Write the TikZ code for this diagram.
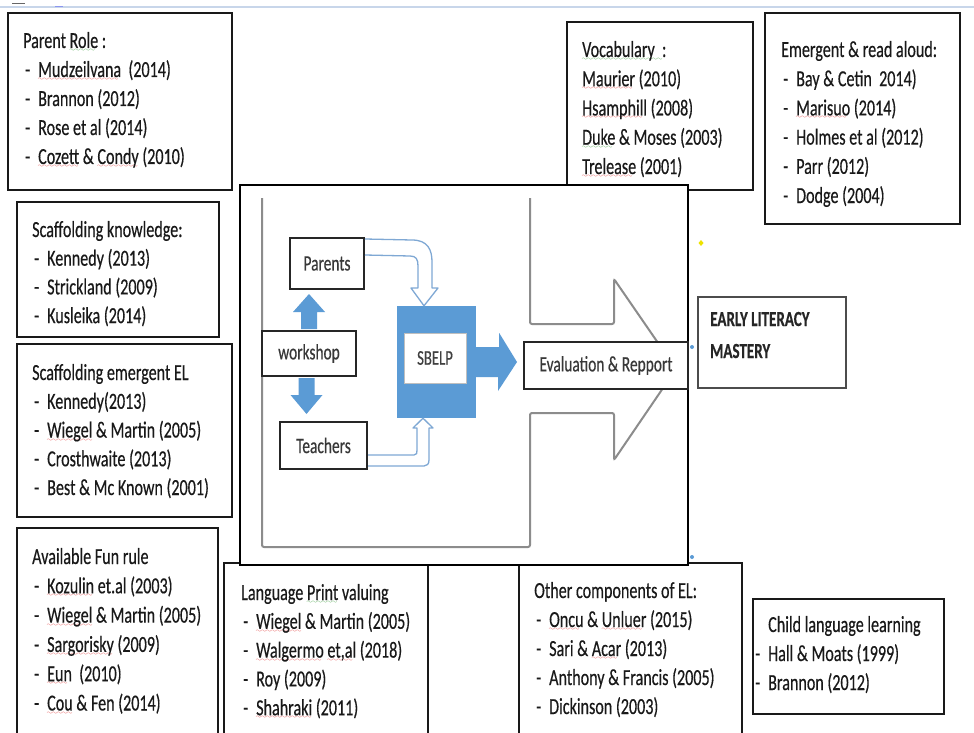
\documentclass[tikz,border=0pt]{standalone}
\usepackage{fontspec}
\setmainfont{Carlito}[FakeStretch=0.7,FakeBold=0.4]
\usetikzlibrary{calc}

\definecolor{officeBlue}{HTML}{5B9BD5}
\definecolor{hollowBlue}{HTML}{7FA8D4}
\definecolor{outlineGray}{HTML}{8C8C8C}
\definecolor{pageRule}{HTML}{C8D6EA}
\definecolor{spellRed}{HTML}{E23B3B}
\definecolor{spellGreen}{HTML}{3F9F3F}

\font\waveFont=lasy6
\newcommand\waveLine[2]{\setbox0\hbox{#2}\rlap{\textcolor{#1}{\raisebox{-3.5pt}{\hbox to \wd0{\leaders\hbox{\waveFont\char58}\hfill}}}}\box0\relax}
\newcommand\redWave[1]{\waveLine{spellRed}{#1}}
\newcommand\greenWave[1]{\waveLine{spellGreen}{#1}}
\newcommand\dashItem[1]{\makebox[15pt][l]{\hspace{2pt}-}#1}
\newcommand\edgeItem[1]{\llap{-\hspace{8pt}}#1}

\begin{document}
\begin{tikzpicture}
[x=1pt,y=-1pt,
  refBox/.style={draw=black!90,line width=2.5pt,inner sep=0pt},
  refText/.style={anchor=base west,inner sep=0pt,text=black!90,font=\fontsize{23}{29}\selectfont},
  masteryText/.style={anchor=base west,inner sep=0pt,text=black!85,font=\fontsize{21.5}{29}\selectfont\bfseries},
  modelBox/.style={draw=black!85,line width=2pt,fill=white,inner sep=0pt,text=black!78,font=\fontsize{22}{26}\selectfont},
  hollowArrow/.style={draw=hollowBlue,line width=1.3pt,line join=round}]
\useasboundingbox (0,0) rectangle (974,733);
\clip (0,0) rectangle (974,733);
%% page rule at the top
\draw[pageRule,line width=1.5pt] (0,7) -- (974,7);
\draw[black!60,line width=1pt] (12,3.5) -- (25,3.5);
\draw[pageRule!70!blue,line width=1pt] (55,7) -- (63,7);
%% literature boxes
\foreach \boxname/\cx/\cy/\w/\h in {
  parentRole/120/101.5/224/177,
  scaffKnowledge/118/269.5/202/135,
  scaffEmergent/124.5/430.5/215/173,
  funRule/117.5/639/201/222,
  printValuing/326/656.5/204/187,
  otherComponents/630.5/656.5/223/187,
  childLanguage/848.5/656.5/191/115,
  vocabulary/660/106/186/168,
  readAloud/862.5/118.5/195/211}
{
  \node[refBox,minimum width=\w pt,minimum height=\h pt] (\boxname) at (\cx,\cy) {};
}
\node[draw=black!70,line width=1.5pt,minimum width=148pt,minimum height=91pt,inner sep=0pt] (mastery) at (772,342.5) {};
%% texts of the boxes
\foreach \txt [count=\i from 0] in {{Parent \greenWave{Role} :},
  {\dashItem{\redWave{Mudzeilvana}\ \ (2014)}},
  {\dashItem{Brannon (2012)}},
  {\dashItem{Rose et al (2014)}},
  {\dashItem{\redWave{Cozett} \& \redWave{Condy} (2010)}}}
  \node[refText] (parentRole-\i) at (23,48+29*\i) {\txt};
\foreach \txt [count=\i from 0] in {{Scaffolding knowledge:},
  {\dashItem{Kennedy (2013)}},
  {\dashItem{Strickland (2009)}},
  {\dashItem{Kusleika (2014)}}}
  \node[refText] (scaffKnowledge-\i) at (32,237+28.7*\i) {\txt};
\foreach \txt [count=\i from 0] in {{Scaffolding emergent EL},
  {\dashItem{Kennedy(2013)}},
  {\dashItem{\redWave{Wiegel} \& Martin (2005)}},
  {\dashItem{Crosthwaite (2013)}},
  {\dashItem{Best \& Mc Known (2001)}}}
  \node[refText] (scaffEmergent-\i) at (32,380+28.75*\i) {\txt};
\foreach \txt [count=\i from 0] in {{Available Fun rule},
  {\dashItem{\redWave{Kozulin} et.al (2003)}},
  {\dashItem{\redWave{Wiegel} \& Martin (2005)}},
  {\dashItem{\redWave{Sargorisky} (2009)}},
  {\dashItem{\redWave{Eun}\ \ (2010)}},
  {\dashItem{\redWave{Cou} \& Fen (2014)}}}
  \node[refText] (funRule-\i) at (32,564+29.3*\i) {\txt};
\foreach \txt [count=\i from 0] in {{Language \greenWave{Print} valuing},
  {\dashItem{\redWave{Wiegel} \& Martin (2005)}},
  {\dashItem{\redWave{Walgermo} \redWave{et,al} (2018)}},
  {\dashItem{Roy (2009)}},
  {\dashItem{\redWave{Shahraki} (2011)}}}
  \node[refText] (printValuing-\i) at (241,600+28.8*\i) {\txt};
\foreach \txt [count=\i from 0] in {{Other components of EL:},
  {\dashItem{\redWave{Oncu} \& \redWave{Unluer} (2015)}},
  {\dashItem{Sari \& \redWave{Acar} (2013)}},
  {\dashItem{Anthony \& Francis (2005)}},
  {\dashItem{Dickinson (2003)}}}
  \node[refText] (otherComponents-\i) at (534,598+29*\i) {\txt};
\foreach \txt [count=\i from 0] in {{Child language learning},
  {\edgeItem{Hall \& Moats (1999)}},
  {\edgeItem{Brannon (2012)}}}
  \node[refText] (childLanguage-\i) at (768,632+29*\i) {\txt};
\foreach \txt [count=\i from 0] in {{\greenWave{Vocabulary\ \ :}},
  {\redWave{Maurier} (2010)},
  {\redWave{Hsamphill} (2008)},
  {\greenWave{Duke} \& Moses (2003)},
  {\redWave{Trelease} (2001)}}
  \node[refText] (vocabulary-\i) at (582,57+29.25*\i) {\txt};
\foreach \txt [count=\i from 0] in {{Emergent \& read aloud:},
  {\dashItem{Bay \& Cetin\ \ 2014)}},
  {\dashItem{\redWave{Marisuo} (2014)}},
  {\dashItem{Holmes et al (2012)}},
  {\dashItem{Parr (2012)}},
  {\dashItem{Dodge (2004)}}}
  \node[refText] (readAloud-\i) at (781,57+29.2*\i) {\txt};
\node[masteryText] (mastery-0) at (710,326) {EARLY LITERACY};
\node[masteryText] (mastery-1) at (710,358) {MASTERY};
%% the model picture
\node[draw=black,line width=1.2pt,fill=white,minimum width=448pt,minimum height=380pt,inner sep=0pt] (modelFrame) at (464,375) {};
\draw[outlineGray,line width=2pt,rounded corners=2pt]
  (262,198) -- (262,547) -- (530,547) -- (530,413) -- (614,413) -- (614,460)
  -- (676,369) -- (614,279) -- (614,324) -- (530,324) -- (530,198);
\node[modelBox,minimum width=74pt,minimum height=51pt] (parents) at (327,263.5) {Parents};
\node[modelBox,minimum width=94pt,minimum height=45pt] (workshop) at (309,353.5) {workshop};
\node[modelBox,minimum width=87pt,minimum height=47pt] (teachers) at (323.5,445.5) {Teachers};
\node[fill=officeBlue,minimum width=79pt,minimum height=112pt,inner sep=0pt] (sbelp) at (436.5,362) {};
\node[draw=black!25,line width=0.8pt,fill=white,minimum width=62pt,minimum height=50pt,inner sep=0pt,text=black!75,font=\fontsize{21}{26}\selectfont] (sbelpLabel) at (435,358) {SBELP};
\node[modelBox,minimum width=164pt,minimum height=47pt] (evaluation) at (606,365.5) {Evaluation \& Repport};
%% block arrows
\fill[officeBlue] ([xshift=-8pt,yshift=1pt]workshop.north) -- ++(0,-17) -- ++(-8,0)
  -- ++(16,-18) -- ++(16,18) -- ++(-8,0) -- ++(0,17) -- cycle;
\fill[officeBlue] ([xshift=-10.5pt,yshift=-1pt]workshop.south) -- ++(0,17) -- ++(-8,0)
  -- ++(16,19) -- ++(16,-19) -- ++(-8,0) -- ++(0,-17) -- cycle;
\fill[officeBlue] ([yshift=15pt]sbelp.east) -- ++(23,0) -- ++(0,-14)
  -- ([xshift=-6pt,yshift=3.5pt]evaluation.west) -- ++(-19,29) -- ++(0,-14)
  -- ([yshift=-15pt]sbelp.east) -- cycle;
\draw[hollowArrow] ([yshift=-2pt]parents.north east) -- (412,240)
  .. controls (428,240) and (432,250) .. (432,262) -- (432,288) -- (438,288)
  -- ([xshift=-12.5pt]sbelp.north) -- (411,288) -- (418,288) -- (418,266)
  .. controls (418,259) and (416,256) .. (410,256) -- ([yshift=-18pt]parents.north east);
\draw[hollowArrow] ([yshift=-9.5pt]teachers.east) -- (414,455)
  .. controls (417,455) and (417,453) .. (417,450) -- (417,428) -- (413,428)
  -- ([xshift=-13.5pt]sbelp.south) -- (433,428) -- (429,428) -- (429,460)
  .. controls (429,464) and (427,466) .. (424,466) -- ([yshift=-20.5pt]teachers.east);
%% selection handles
\fill[officeBlue] (692,347) circle (2);
\fill[officeBlue] (692,557) circle (2);
\fill[yellow!85!olive] (701,240) -- (703.5,243) -- (701,246) -- (698.5,243) -- cycle;
\end{tikzpicture}
\end{document}
